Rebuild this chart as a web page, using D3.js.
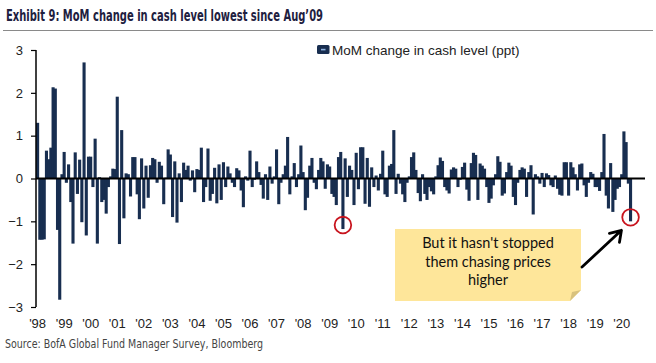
<!DOCTYPE html>
<html lang="en">
<head>
<meta charset="UTF-8">
<title>MoM change in cash level</title>
<script src="https://d3js.org/d3.v7.min.js"></script>
<style>
  body { margin: 0; background: #fff; }
  svg { display: block; font-family: "Liberation Sans", Arial, sans-serif; }
  .title { font-family: "Liberation Sans Narrow", "DejaVu Sans Condensed", sans-serif; font-weight: bold; font-size: 15.5px; fill: #1e2040; }
  .source { font-family: "Liberation Sans Narrow", "DejaVu Sans Condensed", sans-serif; font-size: 12px; fill: #444; }
  .tick-label { font-size: 13px; fill: #222; }
  .legend { font-size: 13.5px; fill: #222; }
  .note { font-family: Lato, "Noto Sans", sans-serif; font-size: 14.5px; fill: #111; }
</style>
</head>
<body>
<svg id="chart" width="656" height="363"></svg>
<script>
// MoM change in cash level (ppt), monthly, one array per year (Jan..Dec)
const y1998 = [1.3, -1.43, -1.43, -1.42, 0.65, 0.45, 0.72, 2.13, 2.1, -1.2, -2.83, 0.1];
const y1999 = [0.62, -0.1, 0.33, -0.55, -1.52, 0.61, -0.36, 0.44, -1.02, 2.71, -1.33, 0.51];
const y2000 = [0.51, -0.2, 0.93, -1.52, 0.03, -0.55, -0.5, -0.82, -0.2, 0.05, 0.23, 0.22];
const y2001 = [1.91, -1.53, 1.13, -0.93, 0.12, 0.1, -0.42, 0.5, 0.5, -0.37, -0.95, 0.47];
const y2002 = [-0.7, 0.3, -0.45, 0.31, 0.48, 0.45, -0.1, 0.39, 0.3, -0.6, 0.02, 0.68];
const y2003 = [0.56, -0.9, 0.4, -1.03, 0.12, -0.55, 0.37, 0.2, 0.3, -0.05, 0.19, -0.32];
const y2004 = [0.22, 0.2, 0.72, -0.55, -0.2, 0.7, -0.52, -0.36, 0.25, -0.58, 0.33, -0.5];
const y2005 = [0.38, -0.2, 0.28, 0.12, -0.1, -0.2, 0.24, 0.19, -0.28, -0.67, 0.05, -0.05];
const y2006 = [0.65, -0.2, -0.03, 0.4, 0.15, -0.15, -0.47, 0.1, -0.5, 0.28, -0.12, 0.05];
const y2007 = [0.68, -0.6, -0.1, 0.1, 0.3, 0.97, -0.37, 0.05, 0.36, -0.2, 0.1, 0.77];
const y2008 = [0.15, -0.74, -0.45, 0.3, 0.48, -0.1, -0.25, 0.2, 0.48, 0.4, -0.24, 0.33];
const y2009 = [0.28, -0.36, -0.43, -0.62, 0.5, 0.62, -1.18, 0.47, -0.43, 0.3, 0.2, -0.62];
const y2010 = [0.6, -0.25, 0.73, 0.73, -0.59, 0.48, -0.66, 0.26, -0.2, 0.07, -0.28, 0.11];
const y2011 = [0.65, -0.37, -0.43, 0.3, 0.34, 1.13, -0.36, 0.11, -0.12, -0.37, -0.55, -0.1];
const y2012 = [0.05, 0.5, 0.61, 0.2, -0.34, -0.53, 0.1, -0.36, -0.5, -0.2, -0.3, -0.37];
const y2013 = [0.05, 0.31, 0.49, 0.41, -0.2, -0.28, -0.35, 0.21, 0.26, 0.23, -0.2, -0.03];
const y2014 = [0.27, 0.37, -0.26, -0.52, 0.36, 0.6, 0.55, -0.5, 0.35, 0.3, 0.23, -0.2];
const y2015 = [-0.57, -0.47, -0.16, 0.1, 0.52, 0.39, -0.4, -0.35, 0.15, 0.37, 0.3, -0.43];
const y2016 = [-0.62, -0.1, 0.2, 0.26, 0.23, -0.43, 0.15, 0.31, -0.84, 0.1, 0.05, -0.12];
const y2017 = [0.13, -0.2, 0.12, 0.08, -0.16, -0.2, 0.07, -0.24, -0.38, -0.4, 0.38, 0.38];
const y2018 = [-0.4, 0.38, 0.26, 0.1, -0.28, 0.33, 0.35, -0.16, -0.43, -0.1, 0.15, 0.11];
const y2019 = [-0.2, -0.2, -0.29, 0.15, 1.04, -0.4, -0.7, 0.36, -0.78, -0.5, -0.24, -0.2];
const y2020 = [0.1, 1.1, 0.85, -0.12, -1.0];

const years = d3.range(1998, 2021);
const yearValues = [y1998, y1999, y2000, y2001, y2002, y2003, y2004, y2005, y2006, y2007,
  y2008, y2009, y2010, y2011, y2012, y2013, y2014, y2015, y2016, y2017, y2018, y2019, y2020];
const yearLabels = years.map(y => "'" + String(y).slice(2));
const yTicks = [3, 2, 1, 0, -1, -2, -3];
const circled = ["2009-07", "2020-05"];   // the two lows that get a red ring
const noteLines = ["But it hasn't stopped", "them chasing prices", "higher"];

// flatten into monthly rows
const data = [];
yearValues.forEach((vals, i) => {
  vals.forEach((v, m) => data.push({ key: years[i] + "-" + String(m + 1).padStart(2, "0"), year: years[i], month: m, value: v }));
});

const svg = d3.select("#chart");

// title + rule
svg.append("text").attr("class", "title").attr("x", 6).attr("y", 21)
  .attr("textLength", 317).attr("lengthAdjust", "spacingAndGlyphs")
  .text("Exhibit 9: MoM change in cash level lowest since Aug\u201909");
svg.append("line").attr("x1", 3).attr("x2", 653).attr("y1", 30.5).attr("y2", 30.5)
  .attr("stroke", "#8a8a8a").attr("stroke-width", 1);

// scales
const slot = 2.2125;
const x = d3.scaleBand().domain(data.map(d => d.key))
  .range([36.5, 36.5 + slot * data.length]).padding(0);
const y = d3.scaleLinear().domain([-3, 3]).range([307, 50]);

// bars (drawn a bit wider than the slot so neighbours merge, as in the original)
const barW = 3.1;
svg.append("g").selectAll("rect").data(data).enter().append("rect")
  .attr("x", d => x(d.key) + x.bandwidth() / 2 - barW / 2)
  .attr("width", barW)
  .attr("y", d => y(Math.max(0, d.value)))
  .attr("height", d => Math.abs(y(d.value) - y(0)))
  .attr("fill", "#182e50");

// y axis
const yAxis = svg.append("g").attr("transform", "translate(36,0)")
  .call(d3.axisLeft(y).tickValues(yTicks).tickSize(5).tickFormat(d3.format("d")));
yAxis.select(".domain").attr("stroke", "#000").attr("stroke-width", 1.5).attr("d", `M0,${y(3)}V${y(-3)}`);
yAxis.selectAll(".tick line").attr("stroke", "#000").attr("stroke-width", 1.2);
yAxis.selectAll(".tick text").attr("class", "tick-label").attr("x", -13)
  .style("font-family", "'Liberation Sans', Arial, sans-serif").attr("font-size", null);

// zero line
svg.append("line").attr("x1", 36).attr("x2", 645).attr("y1", y(0)).attr("y2", y(0))
  .attr("stroke", "#000").attr("stroke-width", 2);

// x labels at each January
svg.append("g").selectAll("text").data(years).enter().append("text")
  .attr("class", "tick-label")
  .attr("x", d => x(d + "-01") + x.bandwidth() / 2)
  .attr("y", 327.5)
  .attr("text-anchor", "middle")
  .text((d, i) => yearLabels[i]);

// legend
const lg = svg.append("g").attr("transform", "translate(317,45)");
lg.append("rect").attr("width", 12.5).attr("height", 9).attr("rx", 1.5).attr("fill", "#182e50");
lg.append("rect").attr("x", 4).attr("y", 3.8).attr("width", 4.5).attr("height", 1.6).attr("fill", "#8fb3e0");
lg.append("text").attr("class", "legend").attr("x", 15).attr("y", 9.5).text("MoM change in cash level (ppt)");

// red rings on the circled bars
svg.append("g").selectAll("circle").data(data.filter(d => circled.includes(d.key))).enter().append("circle")
  .attr("cx", d => x(d.key) + x.bandwidth() / 2)
  .attr("cy", d => y(d.value) - 4)
  .attr("r", 8.3)
  .attr("fill", "none").attr("stroke", "#c8141e").attr("stroke-width", 1.8);

// sticky note
const note = svg.append("g");
note.append("path").attr("d", "M395,229H581V290L570,301H395Z").attr("fill", "#fee69a");
note.append("path").attr("d", "M570,301L572,292L581,290Z").attr("fill", "#d8c27e");
note.selectAll("text").data(noteLines).enter().append("text")
  .attr("class", "note").attr("x", 488).attr("y", (d, i) => 248 + i * 18.5)
  .attr("text-anchor", "middle").text(d => d);

// arrow from the note to the last ring
const last = data[data.length - 1];
const tipX = x(last.key) - 8, tipY = y(last.value) + 9;
svg.append("path")
  .attr("d", `M582,267L${tipX},${tipY}M${tipX - 12},${tipY + 3}L${tipX},${tipY}L${tipX - 2},${tipY + 12}`)
  .attr("fill", "none").attr("stroke", "#000").attr("stroke-width", 2.8)
  .attr("stroke-linecap", "round").attr("stroke-linejoin", "round");

// source
svg.append("text").attr("class", "source").attr("x", 5).attr("y", 348)
  .attr("textLength", 258).attr("lengthAdjust", "spacingAndGlyphs")
  .text("Source: BofA Global Fund Manager Survey, Bloomberg");
</script>
</body>
</html>
